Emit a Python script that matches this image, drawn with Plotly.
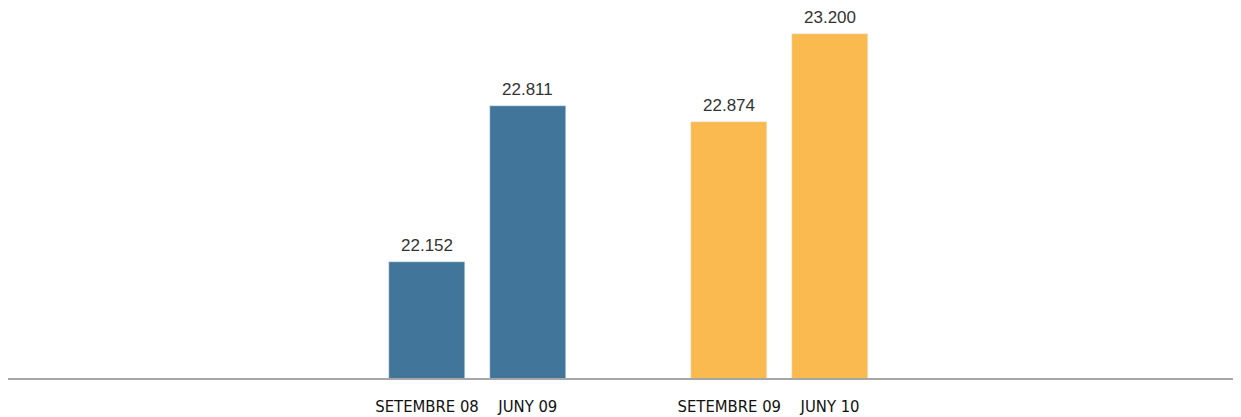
import plotly.graph_objects as go

# Data
categories = ["SETEMBRE 08", "JUNY 09", "SETEMBRE 09", "JUNY 10"]
slots = [0, 1, 3, 4]
values_2008_09 = [22152, 22811]
values_2009_10 = [22874, 23200]

def fmt(v):
    return f"{v:,}".replace(",", ".")

blue = "#41769A"
orange = "#FBBA4F"

fig = go.Figure()
fig.add_trace(go.Bar(
    x=slots[:2], y=values_2008_09, marker_color=blue, width=0.754,
    yaxis="y", hoverinfo="skip",
))
fig.add_trace(go.Bar(
    x=slots[2:], y=values_2009_10, marker_color=orange, width=0.754,
    yaxis="y2", hoverinfo="skip",
))

annotations = []
for xs, vs, yr in [(slots[:2], values_2008_09, "y"), (slots[2:], values_2009_10, "y2")]:
    for x, v in zip(xs, vs):
        annotations.append(dict(
            x=x, y=v, xref="x", yref=yr, text=fmt(v), showarrow=False,
            yanchor="bottom", yshift=5,
            font=dict(size=17, color="#333333", family="Liberation Sans"),
        ))

fig.update_layout(
    width=1233, height=409,
    margin=dict(l=0, r=1, t=0, b=38),
    paper_bgcolor="white", plot_bgcolor="white",
    showlegend=False,
    bargap=0,
    xaxis=dict(
        range=[-4.159, 8.069], tickmode="array", tickvals=slots, ticktext=categories,
        showgrid=False, zeroline=False, showline=False,
        ticks="outside", ticklen=12, tickcolor="rgba(0,0,0,0)",
        tickfont=dict(size=16.5, color="#111111", family="DejaVu Sans Condensed, DejaVu Sans"),
    ),
    yaxis=dict(range=[21657.7, 23225.1], visible=False, showgrid=False),
    yaxis2=dict(range=[21921.8, 23296.4], visible=False, showgrid=False,
                overlaying="y", side="right"),
    annotations=annotations,
    shapes=[dict(type="line", xref="paper", yref="paper", x0=0, x1=1, y0=0, y1=0,
                 line=dict(color="#A6A6A6", width=2))],
)

fig.write_html("out.html")
